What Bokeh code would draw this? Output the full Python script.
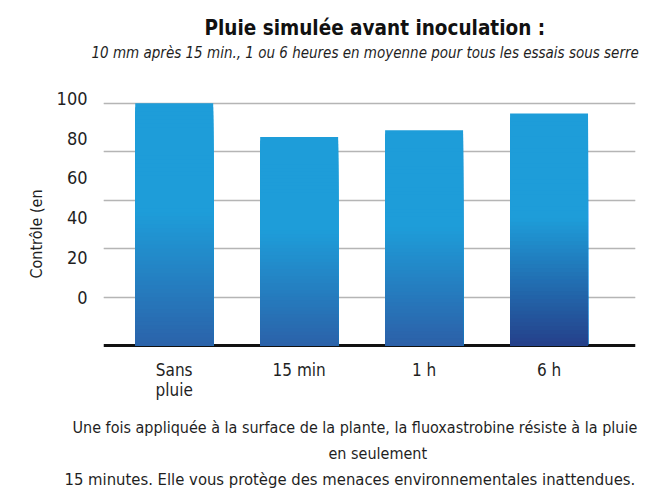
from bokeh.plotting import figure
from bokeh.models import Range1d, LinearAxis, FixedTicker, Title, Span, Grid
from bokeh.embed import file_html
from bokeh.resources import INLINE

# ---------------- data ----------------
categories = ["Sans\npluie", "15 min", "1 h", "6 h"]
values = [100, 86, 88.8, 95.7]
grid_levels = [20, 40, 60, 80, 100]
y_ticks = [0, 20, 40, 60, 80, 100]

title_text = "Pluie simulée avant inoculation :"
subtitle_text = "10 mm après 15 min., 1 ou 6 heures en moyenne pour tous les essais sous serre"
y_title = "Contrôle (en"
caption_lines = [
    "Une fois appliquée à la surface de la plante, la fluoxastrobine résiste à la pluie",
    "en seulement",
    "15 minutes. Elle vous protège des menaces environnementales inattendues.",
]

# ---------------- style ----------------
FONT = "DejaVu Sans Condensed"
TXT = "#1f1f1f"
top_rgb = (0x1E, 0x9D, 0xD9)
bottom_rgbs = [(0x2B, 0x63, 0xAA), (0x2B, 0x62, 0xA9), (0x2C, 0x60, 0xA8), (0x25, 0x40, 0x8A)]


def mix(a, b, t):
    return "#%02x%02x%02x" % tuple(int(round(a[j] + (b[j] - a[j]) * t)) for j in range(3))


def spacer(standoff):
    return Title(text="\u00a0", text_font_size="1px", standoff=standoff)


xpos = list(range(len(categories)))

p = figure(
    width=None, height=None, frame_width=532, frame_height=256,
    x_range=Range1d(-0.566, 3.692),
    y_range=Range1d(-0.83, 104.8),
    y_axis_location=None,
    output_backend="svg", toolbar_location=None,
    min_border_left=103, min_border_right=10, min_border_top=0, min_border_bottom=0,
    title="\u00a0",
)
p.outline_line_color = None
p.background_fill_color = "white"
p.border_fill_color = "white"

# figure title used as top padding only
p.title.text_font_size = "1px"
p.title.standoff = 8

# stacked outward from the frame: gap, subtitle, main title
p.add_layout(spacer(27), "above")
p.add_layout(Title(text=subtitle_text, align="left", offset=-12, text_font=FONT,
                   text_font_style="italic", text_font_size="15px", text_color=TXT,
                   standoff=0), "above")
p.add_layout(Title(text=title_text, align="left", offset=101, text_font=FONT,
                   text_font_style="bold", text_font_size="20.5px",
                   text_color="#111111", standoff=4), "above")

# grid
p.xgrid.visible = False
p.add_layout(Grid(dimension=1, ticker=FixedTicker(ticks=grid_levels),
                  grid_line_color="#b5b5b5", grid_line_width=1.5))

# baseline
p.add_layout(Span(location=0, dimension="width", line_color="#111111",
                  line_width=3, level="underlay"))

# gradient bars (stacked overlapping rectangles, drawn tallest first)
N = 60
for k in range(N - 1, -1, -1):
    frac = (k + 0.5) / N
    t = max(0.0, (0.55 - frac) / 0.55)
    cols = [mix(top_rgb, bottom_rgbs[i], t) for i in range(len(values))]
    tops = [v * (k + 1) / N for v in values]
    p.vbar(x=xpos, width=0.624, bottom=0, top=tops, fill_color=cols, line_color=None)

# x axis
xa = p.xaxis[0]
xa.ticker = FixedTicker(ticks=xpos)
xa.major_label_overrides = {i: c for i, c in zip(xpos, categories)}
xa.axis_line_color = None
xa.major_tick_line_color = None
xa.minor_tick_line_color = None
xa.major_tick_out = 0
xa.major_tick_in = 0
xa.major_label_standoff = 12
xa.major_label_text_font = FONT
xa.major_label_text_font_size = "17px"
xa.major_label_text_line_height = 1.0
xa.major_label_text_color = TXT

# y axis (tick labels sit on their own scale, as in the original)
p.extra_y_ranges = {"lab": Range1d(-25.1, 103.4)}
ya = LinearAxis(y_range_name="lab", ticker=FixedTicker(ticks=y_ticks),
                major_tick_line_color=None, minor_tick_line_color=None,
                major_tick_out=0, major_tick_in=0,
                axis_line_color=None, major_label_standoff=16,
                major_label_text_font=FONT, major_label_text_font_size="18px",
                major_label_text_color=TXT)
p.add_layout(ya, "left")

# y-axis title
p.add_layout(Title(text=y_title, align="left", offset=69, text_font=FONT,
                   text_font_style="normal", text_font_size="16px",
                   text_color=TXT, standoff=16), "left")

# caption lines below
p.add_layout(spacer(8), "below")
sizes = ["16px", "16px", "16.5px"]
offsets = [-31, 225, -39]
for line, sz, off in zip(caption_lines, sizes, offsets):
    p.add_layout(Title(text=line, align="left", offset=off, text_font=FONT,
                       text_font_style="normal", text_font_size=sz,
                       text_color=TXT, standoff=5), "below")

open("out.html", "w").write(file_html(p, INLINE))
